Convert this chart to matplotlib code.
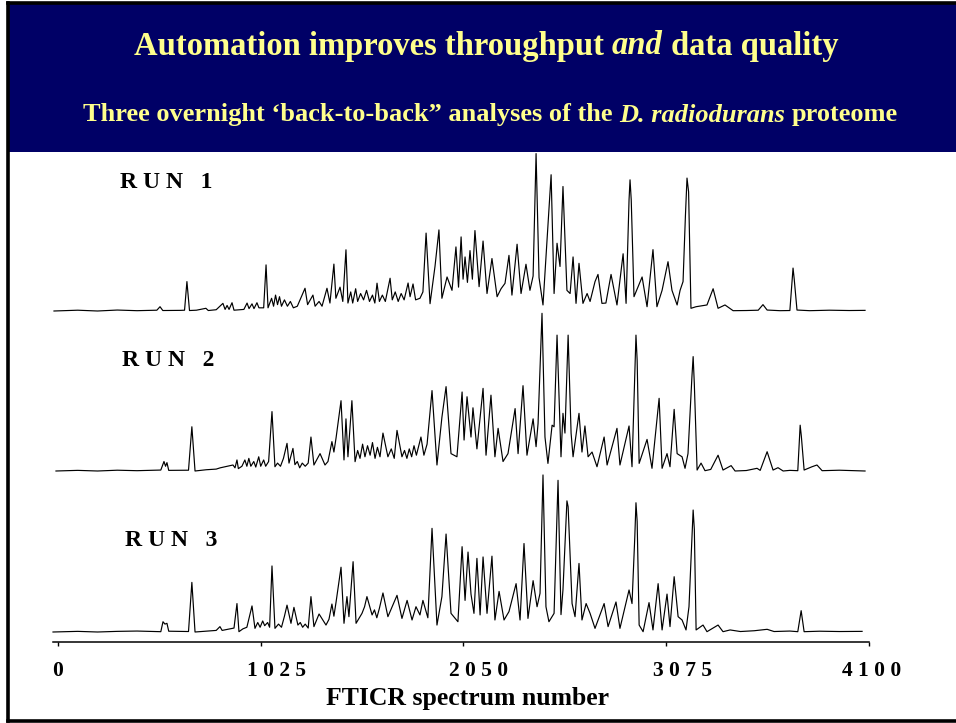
import matplotlib
matplotlib.use('Agg')
import matplotlib.pyplot as plt
from matplotlib.patches import Rectangle
from matplotlib.lines import Line2D
from matplotlib.transforms import offset_copy

# spectrum number / relative intensity (% of tallest peak) for each overnight run
run1_x = [-20, 100, 200, 300, 400, 500, 516, 530, 620, 640, 652, 665, 700, 748, 760, 800, 834, 845, 855, 865,
          880, 890, 940, 956, 966, 981, 991, 1006, 1016, 1040, 1052, 1062, 1080, 1090, 1100, 1110, 1120, 1130,
          1145, 1160, 1175, 1190, 1210, 1249, 1262, 1289, 1300, 1320, 1335, 1360, 1375, 1395, 1405, 1426, 1440,
          1456, 1466, 1480, 1490, 1505, 1515, 1530, 1545, 1560, 1575, 1590, 1602, 1613, 1625, 1640, 1655, 1679,
          1690, 1705, 1720, 1735, 1750, 1770, 1780, 1795, 1808, 1830, 1845, 1861, 1881, 1906, 1926, 1941, 1967,
          1992, 2012, 2025, 2038, 2048, 2058, 2070, 2083, 2095, 2108, 2129, 2149, 2169, 2194, 2220, 2240, 2260,
          2280, 2295, 2321, 2341, 2366, 2386, 2402, 2417, 2432, 2452, 2472, 2477, 2493, 2508, 2523, 2538, 2553,
          2573, 2589, 2604, 2619, 2634, 2654, 2675, 2690, 2715, 2730, 2750, 2770, 2796, 2826, 2857, 2872, 2887,
          2892, 2898, 2912, 2953, 2978, 3008, 3028, 3054, 3084, 3104, 3130, 3145, 3160, 3172, 3180, 3188, 3200,
          3226, 3281, 3312, 3337, 3372, 3413, 3480, 3540, 3564, 3585, 3650, 3700, 3716, 3722, 3736, 3800, 3900,
          4000, 4080]
run1_y = [0, 0.5, 0, 0.6, 0.2, 0.5, 2.7, 0.3, 0.4, 0.5, 18.5, 0.3, 0.5, 1.7, 0.3, 0.8, 4.8, 1, 3.5, 1,
          5.2, 0.5, 1, 5, 1.5, 4.5, 1.5, 5.2, 2, 2, 29, 2, 8, 3, 10, 4, 9, 3,
          7, 3, 6, 2, 3, 14.3, 4, 10, 3, 6, 3, 14.3, 5, 29.5, 8, 15, 6,
          38.5, 5, 12, 5, 14, 6, 11, 7, 13, 6, 10, 5, 17.5, 6, 10, 6, 20.6,
          7, 12, 6, 11, 7, 17.6, 9, 17, 7, 8, 12, 49, 4.6, 28, 51, 8, 21.4,
          13, 40.3, 15, 46.6, 20, 34, 18, 38, 20, 50.6, 15.3, 44, 11, 33, 9, 14, 17.4,
          35, 10, 42, 11, 29.4, 13, 22, 99, 21, 3.8, 44, 53, 85.7, 11, 42.6, 28, 78.3,
          13, 11, 34, 4.8, 30, 4.8, 11, 6, 18.5, 23, 4.8, 5, 23, 3.8, 36, 4.8, 70,
          82.5, 70, 9, 21.4, 2.7, 38.6, 2.7, 13, 31, 13, 3.8, 13, 18.5, 60, 83.6, 75, 1.7,
          2.7, 3.8, 14, 1.7, 3.8, 0.2, 0.3, 0.5, 4, 0.6, 0.2, 0.3, 27, 20, 0.6, 0.2, 0.5,
          0.3, 0.4]

run2_x = [-10, 100, 200, 300, 400, 520, 536, 544, 551, 560, 660, 677, 693, 750, 800, 820, 885, 895, 905, 912,
          930, 945, 955, 965, 975, 990, 1000, 1015, 1025, 1040, 1050, 1065, 1082, 1097, 1110, 1125, 1140, 1158,
          1168, 1188, 1198, 1210, 1222, 1235, 1250, 1265, 1279, 1294, 1325, 1350, 1365, 1385, 1395, 1406, 1431,
          1446, 1456, 1466, 1486, 1502, 1515, 1527, 1540, 1552, 1565, 1578, 1590, 1603, 1615, 1628, 1643, 1668,
          1685, 1700, 1714, 1739, 1752, 1764, 1776, 1788, 1800, 1812, 1835, 1850, 1866, 1891, 1916, 1941, 1962,
          1987, 2017, 2043, 2053, 2068, 2088, 2098, 2118, 2149, 2164, 2189, 2209, 2225, 2250, 2275, 2311, 2326,
          2351, 2371, 2402, 2417, 2427, 2447, 2462, 2477, 2498, 2508, 2523, 2543, 2553, 2563, 2579, 2594, 2604,
          2634, 2649, 2664, 2680, 2700, 2725, 2761, 2776, 2826, 2841, 2887, 2902, 2916, 2922, 2928, 2938, 2978,
          3003, 3039, 3054, 3079, 3094, 3115, 3130, 3155, 3170, 3185, 3205, 3211, 3217, 3231, 3251, 3271, 3300,
          3337, 3362, 3403, 3423, 3480, 3534, 3550, 3585, 3615, 3640, 3666, 3700, 3740, 3752, 3758, 3772, 3812,
          3837, 3863, 3950, 4080]
run2_y = [0, 0.4, 0, 0.5, 0.2, 0.6, 6, 3, 5.3, 0.4, 0.5, 28, 0, 0.8, 1.2, 2, 3.8, 2, 7, 1.5,
          3, 7, 3, 8, 3, 6, 2.5, 9, 3, 7, 3, 6, 37.6, 2.7, 5, 3, 8, 17.5,
          5, 14.3, 4, 6, 2, 5, 3, 5, 21.5, 3.8, 11, 3.8, 6, 18.6, 12, 21, 44.5,
          7, 33, 9, 44.5, 5.9, 13, 8, 17, 9, 16, 10, 18, 8, 15, 9, 24, 9,
          14, 8, 25.7, 9, 13, 8, 14, 9, 16, 10, 21.5, 10, 17, 50.9, 3.8, 34, 53.4,
          11, 9, 50, 19.6, 47, 21.5, 40, 14, 52.3, 10, 48, 9, 27, 6, 11, 39.5, 11,
          54, 10, 33, 15.4, 30, 99.8, 21.5, 4.8, 29, 28, 86, 9, 36.5, 24, 86, 24, 9,
          36.5, 12, 28.5, 9, 12, 2.7, 21.5, 3.8, 27, 3.8, 28.5, 2.7, 60, 86, 70, 4.8, 20,
          1.7, 46, 1.7, 11, 2.7, 39, 11, 9, 1.7, 11, 60, 72.4, 55, 0.6, 5, 0.2, 1,
          10, 0.6, 3.4, 0, 0.3, 1.7, 0.4, 12.2, 0.6, 2.1, 0, 0.4, 0.2, 29, 22, 0.6, 2.7,
          3.8, 0.2, 0.5, 0]

run3_x = [-25, 100, 200, 300, 400, 520, 531, 541, 551, 560, 660, 677, 693, 760, 800, 819, 830, 870, 890, 905,
          915, 935, 955, 981, 996, 1010, 1022, 1035, 1045, 1060, 1070, 1082, 1097, 1115, 1130, 1145, 1158, 1178,
          1193, 1213, 1225, 1237, 1250, 1265, 1279, 1294, 1320, 1355, 1370, 1385, 1395, 1406, 1431, 1446, 1461,
          1471, 1492, 1507, 1537, 1550, 1562, 1588, 1600, 1612, 1625, 1643, 1668, 1714, 1739, 1765, 1790, 1810,
          1830, 1845, 1870, 1891, 1916, 1941, 1962, 1987, 2022, 2043, 2058, 2073, 2088, 2103, 2118, 2134, 2149,
          2169, 2194, 2209, 2230, 2255, 2280, 2316, 2336, 2356, 2376, 2402, 2422, 2437, 2452, 2467, 2482, 2508,
          2528, 2543, 2553, 2573, 2579, 2599, 2614, 2634, 2649, 2670, 2690, 2715, 2761, 2781, 2821, 2841, 2887,
          2902, 2916, 2922, 2928, 2938, 2958, 2988, 3008, 3034, 3054, 3079, 3094, 3115, 3135, 3155, 3175, 3190,
          3205, 3211, 3217, 3226, 3261, 3281, 3337, 3362, 3398, 3450, 3520, 3585, 3620, 3700, 3740, 3757, 3772,
          3850, 3950, 4065]
run3_y = [0, 0.4, 0, 0.4, 0.6, 0.2, 6.5, 5, 5.5, 0.5, 0.3, 31.4, 0, 0.6, 1, 3.4, 1, 2, 2.5, 18,
          0.2, 2, 3, 16.5, 2.3, 6, 3, 7, 4, 6, 3, 41.8, 2.3, 5, 3, 10, 17, 5.5,
          15.6, 4.4, 6, 3, 5, 2.5, 22.4, 3.4, 11.4, 4.4, 8, 17.7, 10, 19, 41, 5.5, 22.4,
          9.7, 44.5, 5.5, 11.8, 16, 22.4, 10.8, 14, 9, 15, 24.7, 9.7, 23.2, 8.6, 20, 7.6, 16,
          10.8, 20, 9, 65.6, 4.4, 22.4, 62, 11.8, 6.5, 54, 20, 50.6, 24, 11.8, 46.6, 10.8, 47.5,
          11.8, 48, 7.6, 25.7, 7.6, 12.9, 30.6, 7.6, 56, 8.6, 32.5, 16, 24.5, 99.4, 16, 6.5, 11.8,
          96, 11, 26.8, 83, 79.3, 18, 9.7, 43.4, 7.6, 18, 11.8, 2.3, 18, 3.4, 19, 2.3, 26.6,
          18, 60, 81.8, 70, 4.4, 0.2, 18.6, 1.3, 30.6, 1.3, 24, 3.4, 35, 9.7, 7.6, 1.3, 16,
          60, 77.2, 65, 1.3, 4.4, 0.2, 4.4, 0.2, 1.3, 0.3, 0.8, 1.7, 0.3, 0.6, 0.2, 13.5, 0.2,
          0.5, 0.3, 0.4]

tick_values = [0, 1025, 2050, 3075, 4100]
tick_labels = ['0', '1 0 2 5', '2 0 5 0', '3 0 7 5', '4 1 0 0']
run_labels = ['R U N   1', 'R U N   2', 'R U N   3']

W, H = 956, 723
navy = '#000066'
yellow = '#FFFF8C'
serif = ['Liberation Serif', 'DejaVu Serif']

fig = plt.figure(figsize=(W / 100, H / 100), dpi=100)


def fx(p):
    return p / W


def fy(p):
    return 1 - p / H


# header band and the black frame
fig.patches.append(Rectangle((fx(9), fy(152)), 1 - fx(9), 148 / H, transform=fig.transFigure,
                             facecolor=navy, edgecolor='none', zorder=0))
for xs, ys in [([7.5, W], [2.5, 2.5]), ([7.5, 7.5], [2.5, 720.5]), ([7.5, W], [720.5, 720.5])]:
    fig.add_artist(Line2D([fx(v) for v in xs], [fy(v) for v in ys], color='black', lw=2.6,
                          transform=fig.transFigure))


def rich_title(parts, xc, yc, size):
    # lay out bold pieces (some italic) side by side, centred on xc
    r = fig.canvas.get_renderer()
    probe = fig.text(0, 0, 'x x', fontsize=size, fontweight='bold', family=serif)
    probe2 = fig.text(0, 0, 'xx', fontsize=size, fontweight='bold', family=serif)
    gap = probe.get_window_extent(r).width - probe2.get_window_extent(r).width
    probe.remove()
    probe2.remove()
    items = [fig.text(0, fy(yc), s, fontsize=size, fontweight='bold', fontstyle=st, family=serif,
                      color=yellow, va='center', ha='left') for s, st in parts]
    widths = [t.get_window_extent(r).width for t in items]
    total = sum(widths) + gap * (len(items) - 1)
    x = xc - total / 2
    for t, w in zip(items, widths):
        t.set_x(fx(x))
        x += w + gap


rich_title([('Automation improves throughput', 'normal'), ('and', 'italic'), ('data quality', 'normal')],
           486, 46, 23.5)
rich_title([('Three overnight \u2018back-to-back\u201d analyses of the', 'normal'),
            ('D. radiodurans', 'italic'), ('proteome', 'normal')], 490, 115, 19)

# three stacked spectra: (axes bottom px, baseline px, top px)
frames = [(311, 311, 152), (471, 471, 313), (642, 632, 474)]
series = [(run1_x, run1_y), (run2_x, run2_y), (run3_x, run3_y)]
label_pos = [(166, 183), (168, 361), (171, 540)]
left, right = 53, 869
axes = []
for (bot, base, top), (xs, ys) in zip(frames, series):
    ax = fig.add_axes([fx(left), fy(bot), (right - left) / W, (bot - top) / H])
    ax.set_xlim(-25, 4100)
    ax.set_ylim(-(bot - base) / (base - top) * 100, 100)
    ax.plot(xs, ys, color='black', lw=0.85, clip_on=False)
    ax.patch.set_visible(False)
    axes.append(ax)

for ax in axes[:2]:
    ax.axis('off')

ax3 = axes[2]
for s in ['top', 'right', 'left']:
    ax3.spines[s].set_visible(False)
ax3.spines['bottom'].set_linewidth(1.1)
ax3.set_yticks([])
ax3.set_xticks(tick_values)
ax3.set_xticklabels([])
ax3.tick_params(axis='x', direction='out', length=3, width=1)

label_shift = [0, 16, 15, 16, 3]
for v, lab, dx in zip(tick_values, tick_labels, label_shift):
    tr = offset_copy(ax3.get_xaxis_transform(), fig=fig, x=dx, y=0, units='dots')
    ax3.text(v, -29 / 168, lab, transform=tr, ha='center', va='center', fontsize=15.5,
             fontweight='bold', family=serif)

fig.text(fx(467), fy(698), 'FTICR spectrum number', ha='center', va='center', fontsize=18.5,
         fontweight='bold', family=serif)

for lab, (xc, yc) in zip(run_labels, label_pos):
    fig.text(fx(xc), fy(yc), lab, ha='center', va='center', fontsize=17, fontweight='bold',
             family=serif)

fig.savefig('out.png', dpi=100)
